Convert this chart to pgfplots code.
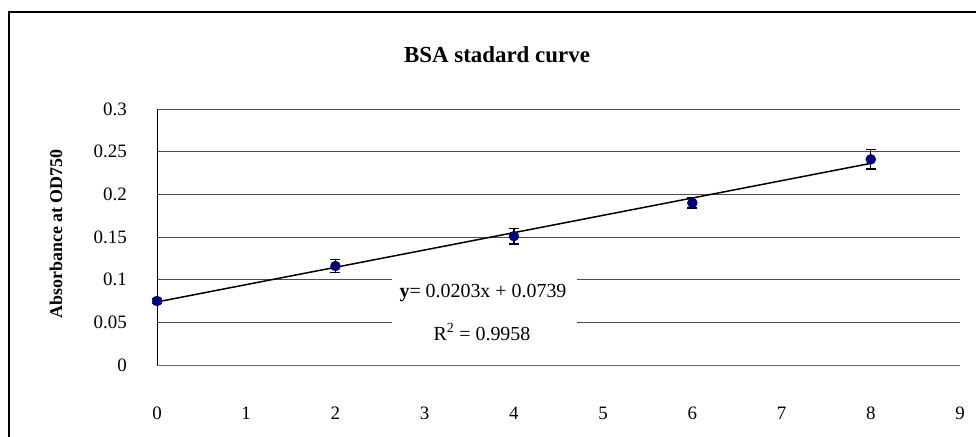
\documentclass[border=0pt]{standalone}
\usepackage{fontspec}
\setmainfont{Liberation Serif}
\usepackage{pgfplots}
\pgfplotsset{compat=1.18}
\definecolor{navymark}{HTML}{000080}
\begin{document}
\begin{tikzpicture}[x=1bp,y=1bp]
\clip (0,0) rectangle (976,-437);
\fill[white] (0,0) rectangle (976,-437);
\draw[line width=2bp] (8.5,-600) -- (8.5,-12.5) -- (1200,-12.5);
\begin{axis}[
  at={(157bp,-365bp)}, anchor=south west,
  scale only axis, width=803bp, height=256bp,
  xmin=0, xmax=9, ymin=0, ymax=0.3,
  axis x line=bottom, axis y line=left,
  axis line style={-, line width=1bp, black!75},
  x axis line style={black!60},
  y axis line style={black},
  major tick length=0pt,
  xtick={0,1,2,3,4,5,6,7,8,9},
  ytick={0,0.05,0.1,0.15,0.2,0.25,0.3},
  yticklabels={0,0.05,0.1,0.15,0.2,0.25,0.3},
  ymajorgrids=true,
  major grid style={line width=1bp, black!70},
  /pgf/number format/assume math mode=true,
  tick label style={font=\fontsize{19}{21}\selectfont},
  xticklabel style={anchor=center, yshift=-48bp},
  yticklabel style={anchor=east, inner sep=0pt, xshift=-30bp},
  clip=false,
]
\addplot[black, line width=1.5bp] coordinates {(0,0.0739) (8,0.2363)};
\addplot[only marks, mark=*, mark size=5bp, mark options={fill=navymark, draw=navymark!80!black},
  error bars/.cd, y dir=both, y explicit,
  error bar style={black, line width=1.4bp},
  error mark options={rotate=90, black, mark size=5bp, line width=1.4bp}]
  coordinates {
  (0,0.075) +- (0,0.003)
  (2,0.116) +- (0,0.0074)
  (4,0.151) +- (0,0.009)
  (6,0.190) +- (0,0.006)
  (8,0.241) +- (0,0.0115)
  };
\end{axis}
\node[font=\bfseries\fontsize{23}{26}\selectfont] at (497,-54.5) {BSA stadard curve};
\node[rotate=90, font=\bfseries\fontsize{18}{20}\selectfont] at (56,-234) {Absorbance at OD750};
\fill[white] (392,-268) rectangle (577,-352);
\node[font=\fontsize{20}{22}\selectfont] at (483,-293) {\textbf{y}= 0.0203x + 0.0739};
\node[font=\fontsize{20}{22}\selectfont] at (482,-332) {R\textsuperscript{2} = 0.9958};
\end{tikzpicture}
\end{document}
